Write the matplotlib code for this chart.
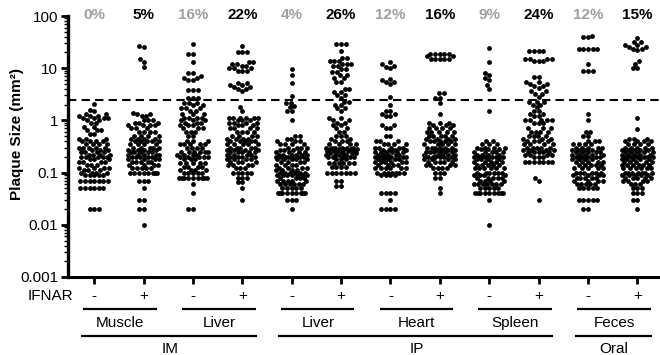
import numpy as np
import matplotlib
matplotlib.use("Agg")
import matplotlib.pyplot as plt
from matplotlib.transforms import blended_transform_factory
from matplotlib.ticker import FixedLocator, LogLocator, NullFormatter

plt.rcParams['font.family'] = ['Liberation Sans', 'DejaVu Sans']

# ---------------- data ----------------
ifnar_signs = ['-', '+', '-', '+', '-', '+', '-', '+', '-', '+', '-', '+']
pct_labels = ['0%', '5%', '16%', '22%', '4%', '26%', '12%', '16%', '9%', '24%', '12%', '15%']
tissues = ['Muscle', 'Liver', 'Liver', 'Heart', 'Spleen', 'Feces']
routes = ['IM', 'IP', 'Oral']
route_groups = [(0, 3), (4, 9), (10, 11)]
threshold = 2.5
yticks = [0.001, 0.01, 0.1, 1, 10, 100]
ytick_labels = ['0.001', '0.01', '0.1', '1', '10', '100']

# Muscle IFNAR-
muscle_neg_vals = [2.1, 1.6, 1.5, 1.3, 1.2, 1.1, 1.0, 0.9, 0.75, 0.65, 0.55, 0.45, 0.4, 0.35, 0.3, 0.27,
                   0.25, 0.22, 0.2, 0.18, 0.16, 0.14, 0.12, 0.11, 0.1, 0.09, 0.07, 0.05, 0.02]
muscle_neg_cnts = [1, 1, 1, 2, 3, 4, 2, 2, 2, 3, 2, 3, 4, 4, 5, 3, 4, 4, 5, 3, 4, 3, 4, 3, 4, 5, 7, 6, 3]
# Muscle IFNAR+
muscle_pos_vals = [27, 25, 15, 13, 10.5, 1.4, 1.3, 1.2, 1.0, 0.9, 0.8, 0.7, 0.6, 0.5, 0.45, 0.4, 0.35, 0.3,
                   0.27, 0.25, 0.22, 0.2, 0.18, 0.16, 0.14, 0.12, 0.1, 0.07, 0.05, 0.03, 0.02, 0.01]
muscle_pos_cnts = [1, 1, 1, 1, 1, 1, 2, 2, 3, 3, 4, 3, 4, 4, 4, 5, 4, 5, 4, 5, 5, 5, 4, 5, 4, 5, 8, 3, 1, 2, 2, 1]
# Liver (IM) IFNAR-
liverim_neg_vals = [29, 19, 13, 8, 7, 6.5, 6, 3.8, 2.7, 2.2, 2.0, 1.7, 1.5, 1.3, 1.1, 1.0, 0.9, 0.8, 0.7, 0.6,
                    0.5, 0.4, 0.35, 0.3, 0.25, 0.22, 0.2, 0.18, 0.15, 0.13, 0.11, 0.1, 0.08, 0.06, 0.04, 0.02]
liverim_neg_cnts = [1, 2, 1, 2, 1, 2, 2, 3, 3, 3, 2, 3, 2, 3, 4, 3, 3, 3, 3, 3,
                    2, 3, 5, 4, 6, 4, 5, 3, 5, 4, 4, 5, 9, 1, 1, 2]
# Liver (IM) IFNAR+
liverim_pos_vals = [27, 20, 13, 12, 11, 10, 9, 5.2, 4.8, 4.4, 4.0, 3.6, 1.8, 1.5, 1.1, 1.0, 0.9, 0.8, 0.7, 0.6,
                    0.5, 0.45, 0.4, 0.35, 0.3, 0.27, 0.25, 0.22, 0.2, 0.18, 0.16, 0.14, 0.12, 0.1, 0.08, 0.065,
                    0.05, 0.03]
liverim_pos_cnts = [1, 3, 2, 2, 2, 3, 3, 2, 2, 2, 2, 1, 1, 1, 6, 3, 4, 3, 4, 4,
                    4, 4, 5, 5, 5, 4, 5, 4, 4, 4, 4, 4, 3, 5, 3, 2, 1, 1]
# Liver (IP) IFNAR-
liverip_neg_vals = [9.5, 7.5, 5.3, 2.9, 2.2, 1.9, 1.8, 1.5, 1.0, 0.5, 0.45, 0.4, 0.35, 0.3, 0.27, 0.25, 0.22,
                    0.2, 0.18, 0.16, 0.14, 0.12, 0.11, 0.1, 0.09, 0.08, 0.07, 0.06, 0.05, 0.04, 0.03, 0.02]
liverip_neg_cnts = [1, 1, 1, 1, 2, 1, 1, 2, 1, 2, 2, 3, 4, 4, 3, 4, 6,
                    9, 5, 4, 4, 4, 4, 6, 7, 4, 5, 6, 5, 9, 3, 1]
# Liver (IP) IFNAR+
liverip_pos_vals = [29, 21, 16, 14, 12, 11, 9.5, 8.5, 7.5, 6.5, 5.5, 4.0, 3.5, 3.0, 2.7, 2.3, 2.0, 1.7, 1.5,
                    1.1, 1.0, 0.9, 0.8, 0.7, 0.6, 0.5, 0.45, 0.4, 0.35, 0.3, 0.28, 0.26, 0.24, 0.22, 0.2,
                    0.18, 0.15, 0.13, 0.1, 0.07, 0.055]
liverip_pos_cnts = [3, 1, 2, 3, 3, 2, 2, 2, 2, 2, 2, 2, 2, 2, 1, 2, 2, 2, 1,
                    2, 2, 2, 2, 2, 2, 3, 2, 3, 4, 6, 5, 6, 4, 4, 5,
                    3, 6, 4, 7, 2, 2]
# Heart IFNAR-
heart_neg_vals = [13, 12, 11, 10.5, 10, 6.3, 6, 5.5, 5, 2.8, 2.0, 1.5, 1.3, 1.2, 0.8, 0.7, 0.5, 0.4, 0.35,
                  0.3, 0.27, 0.25, 0.22, 0.2, 0.18, 0.16, 0.14, 0.12, 0.1, 0.09, 0.04, 0.03, 0.02]
heart_neg_cnts = [1, 1, 1, 1, 1, 1, 1, 2, 1, 1, 1, 2, 2, 2, 2, 2, 2, 3, 4,
                  5, 4, 6, 5, 6, 5, 6, 4, 6, 7, 4, 4, 1, 4]
# Heart IFNAR+
heart_pos_vals = [19, 17, 15, 3.3, 2.7, 2.2, 1.3, 0.9, 0.8, 0.7, 0.6, 0.5, 0.45, 0.4, 0.35, 0.3, 0.27, 0.25,
                  0.22, 0.2, 0.18, 0.16, 0.14, 0.12, 0.1, 0.08, 0.05, 0.04]
heart_pos_cnts = [5, 2, 5, 2, 2, 1, 1, 3, 3, 4, 5, 5, 4, 5, 5, 6, 4, 6,
                  5, 6, 4, 5, 4, 4, 3, 2, 1, 1]
# Spleen IFNAR-
spleen_neg_vals = [24, 13, 8, 7.5, 6.5, 6, 4.8, 4, 1.5, 0.4, 0.35, 0.3, 0.28, 0.25, 0.22, 0.2, 0.18, 0.16,
                   0.14, 0.12, 0.1, 0.09, 0.08, 0.07, 0.06, 0.05, 0.04, 0.03, 0.01]
spleen_neg_cnts = [1, 1, 1, 1, 1, 1, 1, 1, 1, 2, 3, 4, 3, 5, 4, 6, 4, 5,
                   5, 6, 6, 4, 5, 4, 7, 5, 9, 1, 1]
# Spleen IFNAR+
spleen_pos_vals = [21, 15, 14, 6.7, 5.4, 5, 4.5, 4.2, 3.6, 3.2, 2.8, 2.3, 2.0, 1.8, 1.5, 1.3, 1.2, 1.0, 0.9,
                   0.7, 0.6, 0.5, 0.45, 0.4, 0.35, 0.3, 0.27, 0.25, 0.22, 0.2, 0.16, 0.08, 0.07, 0.03]
spleen_pos_cnts = [4, 4, 3, 2, 2, 2, 2, 1, 2, 2, 1, 3, 2, 1, 2, 2, 2, 5, 3,
                   3, 4, 4, 3, 4, 4, 5, 4, 5, 4, 3, 7, 1, 1, 1]
# Feces IFNAR-
feces_neg_vals = [42, 39, 23, 12, 8.8, 1.35, 1.0, 0.6, 0.5, 0.4, 0.35, 0.3, 0.27, 0.25, 0.22, 0.2, 0.18, 0.16,
                  0.14, 0.12, 0.1, 0.09, 0.08, 0.07, 0.06, 0.05, 0.03, 0.02]
feces_neg_cnts = [1, 2, 5, 1, 3, 1, 1, 2, 2, 3, 4, 5, 4, 5, 5, 5, 4, 5,
                  5, 5, 6, 4, 5, 4, 5, 5, 5, 2]
# Feces IFNAR+
feces_pos_vals = [38, 32, 28, 25, 23, 22, 13.5, 12, 10, 1.1, 0.67, 0.45, 0.4, 0.35, 0.3, 0.27, 0.25, 0.22,
                  0.2, 0.18, 0.16, 0.14, 0.12, 0.1, 0.09, 0.08, 0.07, 0.06, 0.05, 0.04, 0.03, 0.02]
feces_pos_cnts = [1, 2, 2, 2, 2, 1, 1, 1, 2, 1, 1, 3, 4, 4, 5, 5, 5, 5,
                  6, 5, 5, 6, 6, 7, 5, 5, 4, 3, 3, 3, 2, 1]

group_vals = [muscle_neg_vals, muscle_pos_vals, liverim_neg_vals, liverim_pos_vals,
              liverip_neg_vals, liverip_pos_vals, heart_neg_vals, heart_pos_vals,
              spleen_neg_vals, spleen_pos_vals, feces_neg_vals, feces_pos_vals]
group_cnts = [muscle_neg_cnts, muscle_pos_cnts, liverim_neg_cnts, liverim_pos_cnts,
              liverip_neg_cnts, liverip_pos_cnts, heart_neg_cnts, heart_pos_cnts,
              spleen_neg_cnts, spleen_pos_cnts, feces_neg_cnts, feces_pos_cnts]

# ---------------- figure ----------------
W, H = 660, 355
fig = plt.figure(figsize=(W / 100, H / 100), dpi=100)
ax = fig.add_axes([68 / W, 1 - 277 / H, (W - 68) / W, (277 - 16) / H])
ax.set_yscale('log')
ax.set_ylim(0.001, 100)
ax.set_xlim(-0.53, 11.46)


def swarm_offsets(ypix, d, max_w):
    """Beeswarm in pixel space; when no free slot within max_w, overlap at the least crowded spot."""
    order = np.argsort(ypix, kind='stable')
    px = np.zeros(0)
    py = np.zeros(0)
    xs = np.zeros(len(ypix))
    grid = np.linspace(-max_w, max_w, 61)
    for i in order:
        y = ypix[i]
        dy = np.abs(py - y)
        near = dy < d
        w = np.sqrt(d * d - dy[near] ** 2)
        lo = px[near] - w
        hi = px[near] + w
        cands = np.concatenate([[0.0], lo, hi])
        cands = cands[np.abs(cands) <= max_w + 1e-9]
        cands = cands[np.lexsort((cands, np.abs(cands)))]
        chosen = None
        for c in cands:
            if not np.any((lo + 1e-6 < c) & (c < hi - 1e-6)):
                chosen = c
                break
        if chosen is None:
            if len(px):
                dist = np.min(np.hypot(grid[:, None] - px[None, :], y - py[None, :]), axis=1)
                score = dist - 0.01 * np.abs(grid)
                chosen = grid[np.argmax(score)]
            else:
                chosen = 0.0
        xs[i] = chosen
        px = np.append(px, chosen)
        py = np.append(py, y)
    return xs


d_px = 4.6
max_w_px = 15.5
inv = ax.transData.inverted()
for gi, (vals, cnts) in enumerate(zip(group_vals, group_cnts)):
    y = np.repeat(np.array(vals, dtype=float), cnts)
    disp = ax.transData.transform(np.column_stack([np.full(len(y), gi), y]))
    offs = swarm_offsets(disp[:, 1], d_px, max_w_px)
    disp[:, 0] = disp[:, 0] + offs
    data = inv.transform(disp)
    ax.scatter(data[:, 0], y, s=12, c='black', linewidths=0, zorder=3, clip_on=False)

ax.axhline(threshold, color='black', lw=1.5, dashes=(4, 2.5), zorder=2)

for s in ['top', 'right']:
    ax.spines[s].set_visible(False)
ax.spines['left'].set_linewidth(2.4)
ax.spines['bottom'].set_linewidth(2.2)

ax.yaxis.set_major_locator(FixedLocator(yticks))
ax.set_yticklabels(ytick_labels)
ax.yaxis.set_minor_locator(LogLocator(base=10, subs=np.arange(2, 10), numticks=20))
ax.yaxis.set_minor_formatter(NullFormatter())
ax.tick_params(axis='y', which='major', length=5, width=2, labelsize=11, pad=2)
ax.tick_params(axis='y', which='minor', length=3, width=1)
ax.set_xticks(range(12))
ax.set_xticklabels([])
ax.tick_params(axis='x', which='major', length=5, width=2)

fig.text(17 / W, 1 - 134 / H, 'Plaque Size (mm²)', rotation=90, ha='center', va='center',
         fontsize=11, fontweight='bold')

tr = blended_transform_factory(ax.transData, fig.transFigure)

for gi, lab in enumerate(pct_labels):
    col = '#a0a0a0' if ifnar_signs[gi] == '-' else 'black'
    fig.text(gi, 1 - 15 / H, lab, transform=tr, ha='center', va='center', fontsize=11,
             fontweight='bold', color=col)

fig.text(73 / W, 1 - 296 / H, 'IFNAR', ha='right', va='center', fontsize=11)
for gi, sgn in enumerate(ifnar_signs):
    fig.text(gi, 1 - 296 / H, sgn, transform=tr, ha='center', va='center', fontsize=11)

for ti, tname in enumerate(tissues):
    a, b = 2 * ti, 2 * ti + 1
    ax.plot([a - 0.22, b + 0.27], [1 - 309 / H] * 2, transform=tr, color='black', lw=1.6,
            clip_on=False, solid_capstyle='butt')
    fig.text((a + b) / 2 + 0.03, 1 - 323 / H, tname, transform=tr, ha='center', va='center', fontsize=11)

for (a, b), rname in zip(route_groups, routes):
    ax.plot([a - 0.27, b + 0.3], [1 - 336 / H] * 2, transform=tr, color='black', lw=1.6,
            clip_on=False, solid_capstyle='butt')
    fig.text((a + b) / 2 + 0.03, 1 - 349 / H, rname, transform=tr, ha='center', va='center', fontsize=11)

fig.savefig('out.png', dpi=100)
